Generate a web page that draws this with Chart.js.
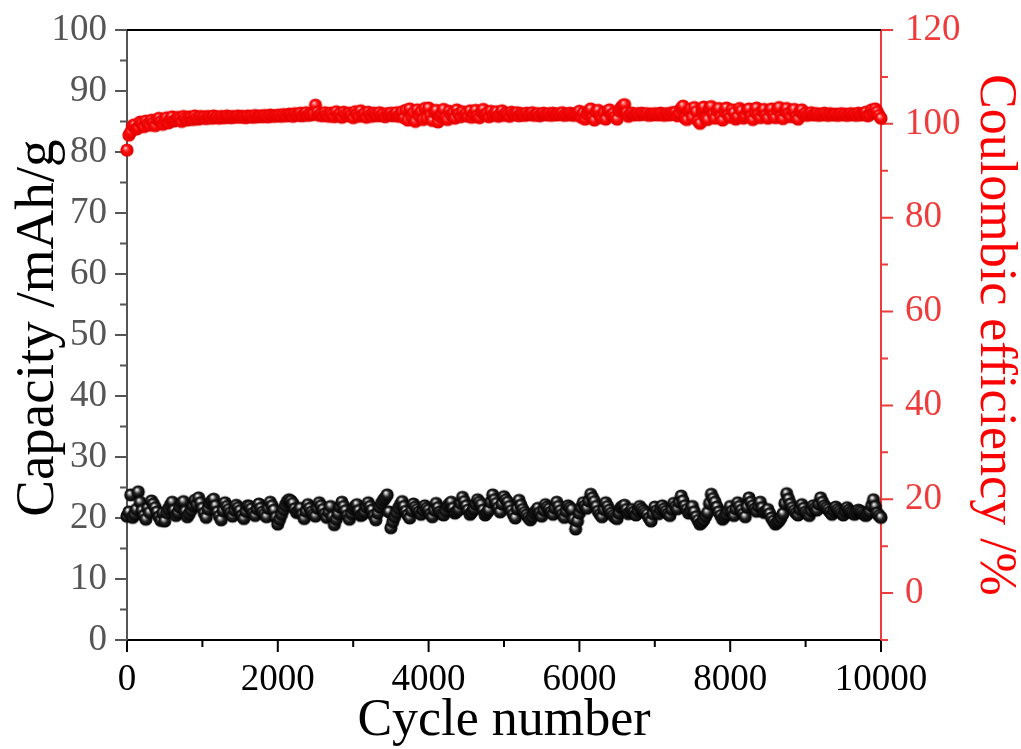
<!DOCTYPE html>
<html>
<head>
<meta charset="utf-8">
<script src="https://cdn.jsdelivr.net/npm/chart.js@4.4.1/dist/chart.umd.min.js"></script>
<style>
  html, body { margin: 0; background: #fff; }
  #wrap { width: 1021px; height: 749px; }
</style>
</head>
<body>
<div id="wrap"><canvas id="chart" width="1021" height="749"></canvas></div>
<script>
// ====== Data (one point every 25 cycles) ======
const cycleStep = 25;

const capacity = [
  20.3, 21.0, 23.8, 20.1, 20.6, 21.4, 24.3, 22.6, 21.2, 20.4, 19.8, 21.6, 20.9, 22.8, 22.3, 21.7, 21.0, 20.2, 19.6, 20.8,
  19.5, 20.9, 21.5, 22.1, 22.6, 21.3, 20.4, 20.9, 21.8, 22.4, 22.7, 21.1, 20.2, 20.7, 21.3, 22.0, 22.9, 22.2, 23.3, 22.5,
  21.6, 20.8, 20.1, 21.5, 22.4, 22.8, 23.1, 22.0, 21.0, 20.3, 19.7, 21.2, 22.5, 21.9, 21.4, 20.9, 20.3, 21.3, 22.1, 21.7,
  21.2, 20.4, 19.9, 21.1, 22.0, 21.9, 21.5, 20.8, 20.4, 21.5, 22.3, 21.6, 21.0, 20.6, 20.2, 21.6, 22.6, 22.0, 21.3, 20.1,
  19.0, 19.8, 20.6, 21.4, 22.1, 22.7, 23.0, 22.8, 22.4, 21.5, 20.9, 21.2, 21.6, 20.6, 19.9, 21.1, 22.2, 21.6, 21.0, 20.6,
  20.3, 21.6, 22.5, 22.0, 21.4, 20.7, 20.1, 21.0, 21.9, 20.2, 18.9, 19.8, 20.7, 21.8, 22.6, 21.9, 21.2, 20.4, 19.8, 20.7,
  21.5, 21.9, 22.2, 21.2, 20.4, 20.6, 21.0, 21.8, 22.5, 21.9, 21.3, 20.4, 19.7, 20.8, 21.8, 22.4, 22.9, 23.3, 23.8, 21.0,
  18.4, 19.4, 20.2, 20.9, 21.6, 22.2, 22.7, 21.9, 21.1, 20.5, 20.0, 21.2, 22.3, 21.8, 21.4, 21.0, 20.6, 21.3, 22.0, 21.6,
  21.3, 20.7, 20.2, 21.3, 22.4, 21.7, 21.0, 20.7, 20.5, 21.2, 21.9, 22.3, 22.6, 21.6, 20.8, 21.1, 21.4, 22.4, 23.4, 22.7,
  22.0, 21.3, 20.6, 21.0, 21.5, 22.3, 23.0, 22.6, 22.2, 21.3, 20.5, 20.9, 21.3, 22.6, 23.8, 23.0, 22.4, 21.7, 21.0, 22.3,
  23.5, 23.0, 22.6, 21.9, 21.2, 20.6, 20.0, 21.5, 22.9, 22.1, 21.4, 20.9, 20.5, 20.1, 19.7, 20.2, 20.8, 21.2, 21.6, 20.9,
  20.3, 21.3, 22.2, 21.8, 21.5, 21.0, 20.6, 21.6, 22.6, 21.9, 21.2, 20.6, 20.1, 21.1, 22.0, 21.7, 21.4, 19.8, 18.2, 19.5,
  20.8, 21.7, 22.5, 22.0, 21.6, 22.8, 23.9, 23.3, 22.7, 21.9, 21.1, 20.6, 20.2, 21.4, 22.5, 21.9, 21.3, 20.8, 20.4, 20.1,
  19.9, 20.8, 21.7, 21.9, 22.1, 21.4, 20.7, 21.0, 21.4, 21.0, 20.5, 21.2, 21.9, 21.5, 21.2, 20.9, 20.6, 20.0, 19.5, 20.7,
  21.8, 21.2, 20.7, 21.4, 22.0, 21.5, 21.1, 20.7, 20.4, 21.4, 22.4, 21.9, 21.5, 22.6, 23.6, 22.8, 22.0, 21.4, 20.8, 21.3,
  21.9, 21.0, 20.2, 19.6, 19.0, 19.3, 19.7, 20.3, 20.9, 22.4, 23.9, 23.2, 22.6, 21.8, 21.0, 20.4, 19.8, 20.2, 20.6, 21.2,
  21.9, 21.1, 20.4, 21.5, 22.5, 21.9, 21.3, 20.7, 20.2, 21.8, 23.3, 22.6, 22.0, 21.5, 21.1, 21.9, 22.6, 21.7, 20.9, 21.1,
  21.4, 20.7, 20.0, 19.5, 19.0, 19.3, 19.6, 20.1, 20.7, 22.4, 24.0, 23.1, 22.3, 21.7, 21.2, 20.8, 20.5, 21.4, 22.2, 21.6,
  21.0, 20.7, 20.4, 21.2, 22.0, 21.6, 21.3, 22.3, 23.3, 22.6, 22.0, 21.7, 21.4, 21.0, 20.6, 21.2, 21.8, 21.4, 21.1, 20.8,
  20.5, 21.1, 21.7, 21.3, 21.0, 20.8, 20.6, 21.0, 21.3, 21.1, 20.9, 20.6, 20.4, 20.7, 21.1, 22.0, 23.0, 21.9, 20.8, 20.4,
  20.1,
];

const efficiency = [
  94.4, 97.6, 98.3, 99.6, 99.8, 98.9, 99.2, 100.4, 100.1, 99.4, 100.6, 100.0, 99.7, 100.8, 100.3, 99.6, 100.9, 101.2, 100.5, 99.9,
  100.7, 101.3, 100.2, 101.0, 101.5, 100.6, 100.9, 101.4, 101.1, 100.5, 101.6, 101.2, 100.8, 101.5, 101.3, 100.9, 101.7, 101.2, 101.0, 101.6,
  101.3, 101.5, 101.1, 101.6, 101.4, 101.2, 101.7, 101.3, 101.5, 101.2, 101.6, 101.4, 101.3, 101.7, 101.5, 101.3, 101.6, 101.4, 101.5, 101.7,
  101.4, 101.6, 101.5, 101.3, 101.7, 101.5, 101.6, 101.4, 101.8, 101.5, 101.6, 101.7, 101.5, 101.8, 101.6, 101.5, 101.9, 101.7, 101.6, 101.8,
  101.7, 101.9, 101.6, 102.0, 101.8, 101.7, 102.1, 101.9, 101.6, 102.2, 101.9, 101.8, 102.3, 101.7, 102.0, 102.4, 101.8, 102.1, 101.9, 102.2,
  104.0, 102.5, 101.8, 102.1, 101.7, 102.4, 101.9, 101.6, 102.3, 102.0, 101.5, 102.6, 101.8, 102.2, 101.4, 102.5, 102.0, 101.7, 102.3, 101.9,
  101.3, 102.6, 102.1, 101.6, 102.8, 101.8, 102.2, 101.4, 102.5, 101.9, 101.6, 102.3, 102.0, 101.7, 102.4, 101.8, 102.1, 101.5, 102.2, 101.9,
  102.3, 101.7, 102.0, 102.4, 101.6, 102.1, 102.6, 101.3, 102.9, 100.8, 103.2, 101.5, 102.4, 100.5, 103.0, 101.7, 102.6, 100.9, 103.3, 101.2,
  103.4, 101.8, 100.7, 102.5, 102.9, 100.4, 101.6, 102.2, 103.1, 101.3, 100.9, 102.7, 101.9, 102.4, 101.2, 103.0, 102.1, 101.5, 102.6, 101.8,
  102.3, 101.6, 102.8, 101.4, 102.1, 102.9, 101.7, 101.3, 102.5, 103.1, 101.9, 102.2, 101.5, 102.7, 101.8, 102.3, 102.6, 101.6, 102.0, 102.8,
  101.8, 102.3, 102.0, 101.6, 102.5, 102.1, 101.9, 102.4, 101.7, 102.2, 102.0, 101.8, 102.3, 101.9, 102.1, 102.4, 101.8, 102.0, 102.2, 101.7,
  102.1, 102.3, 101.9, 102.0, 102.2, 101.8, 102.3, 102.0, 101.9, 102.2, 102.0, 102.4, 101.8, 102.1, 101.9, 102.3, 102.0, 101.8, 102.2, 102.1,
  102.7, 101.4, 102.3, 101.0, 102.1, 102.8, 103.2, 101.2, 100.8, 102.5, 102.9, 101.6, 101.3, 102.4, 101.0, 102.7, 103.0, 101.8, 102.2, 101.5,
  101.0, 102.8, 103.4, 103.9, 104.1, 102.4, 101.6, 102.1, 102.3, 101.9, 102.0, 102.2, 101.9, 102.3, 102.1, 102.0, 102.2, 101.8, 102.1, 101.9,
  102.2, 102.0, 101.9, 102.3, 102.1, 101.8, 102.2, 102.0, 101.9, 102.4, 102.1, 102.5, 101.7, 102.3, 103.3, 103.8, 101.2, 100.9, 102.7, 103.2,
  101.4, 103.5, 102.6, 100.6, 100.1, 103.0, 103.6, 101.1, 100.9, 103.4, 103.7, 102.0, 101.2, 102.8, 103.3, 101.5, 100.8, 102.6, 103.4, 101.9,
  101.4, 103.0, 102.4, 101.0, 101.5, 103.3, 102.8, 101.2, 101.7, 102.9, 103.2, 101.6, 100.9, 102.5, 103.4, 102.0, 101.3, 102.7, 103.1, 101.8,
  101.2, 102.9, 103.2, 101.8, 101.3, 103.0, 103.5, 101.6, 101.1, 102.7, 103.3, 102.2, 101.5, 102.8, 103.1, 101.4, 101.0, 102.6, 103.0, 101.9,
  102.3, 101.8, 102.1, 102.4, 101.9, 102.0, 102.2, 101.8, 102.1, 101.9, 102.3, 102.0, 101.8, 102.2, 102.0, 101.9, 102.1, 101.8, 102.0, 102.2,
  101.9, 102.1, 101.8, 102.0, 102.2, 101.9, 102.1, 101.8, 102.3, 102.0, 101.9, 102.2, 102.5, 101.7, 102.0, 103.0, 102.4, 103.2, 102.6, 101.8,
  101.2,
];

const xTicks = [0, 2000, 4000, 6000, 8000, 10000];
const xMinor = [1000, 3000, 5000, 7000, 9000];
const yTicks = [0, 10, 20, 30, 40, 50, 60, 70, 80, 90, 100];
const yMinor = [5, 15, 25, 35, 45, 55, 65, 75, 85, 95];
const y2Ticks = [0, 20, 40, 60, 80, 100, 120];
const y2Minor = [-10, 10, 30, 50, 70, 90, 110];

// ====== Styling ======
const SERIF = "'Liberation Serif', 'Times New Roman', serif";
const GRAY = "#555555";
const RED_AX = "#ee3b3b";
const RED = "#ff0000";

// shaded ball used as point marker
function ball(r, stops) {
  const s = Math.ceil(r * 2) + 2;
  const c = document.createElement("canvas");
  c.width = c.height = s;
  const g = c.getContext("2d");
  const grad = g.createRadialGradient(s * 0.4, s * 0.36, 0.4, s / 2, s / 2, r);
  stops.forEach(([o, col]) => grad.addColorStop(o, col));
  g.fillStyle = grad;
  g.beginPath();
  g.arc(s / 2, s / 2, r, 0, Math.PI * 2);
  g.fill();
  return c;
}
const blackBall = ball(6.6, [[0, "#ffffff"], [0.2, "#9a9a9a"], [0.48, "#222"], [1, "#000"]]);
const redBall = ball(6.6, [[0, "#ffd6d6"], [0.2, "#ff5a5a"], [0.48, "#ff0a0a"], [1, "#e00000"]]);

const toPoints = (arr) => arr.map((v, i) => ({ x: i * cycleStep, y: v }));

// outward major/minor tick marks + top frame line
const frame = {
  id: "frame",
  beforeDatasetsDraw(chart) {
    const { ctx, chartArea: a, scales } = chart;
    ctx.save();
    ctx.lineWidth = 2;
    ctx.strokeStyle = "#000";
    ctx.beginPath();
    ctx.moveTo(a.left - 1, a.top);
    ctx.lineTo(a.right, a.top);
    ctx.stroke();

    const marks = (scale, values, len, color, side) => {
      ctx.strokeStyle = color;
      ctx.beginPath();
      values.forEach((v) => {
        const p = scale.getPixelForValue(v);
        if (side === "bottom") {
          ctx.moveTo(p, a.bottom);
          ctx.lineTo(p, a.bottom + len);
        } else if (side === "left") {
          ctx.moveTo(a.left, p);
          ctx.lineTo(a.left - len, p);
        } else {
          ctx.moveTo(a.right, p);
          ctx.lineTo(a.right + len, p);
        }
      });
      ctx.stroke();
    };
    marks(scales.x, xTicks, 12, "#000", "bottom");
    marks(scales.x, xMinor, 7, "#000", "bottom");
    marks(scales.y, yTicks, 12, GRAY, "left");
    marks(scales.y, yMinor, 7, GRAY, "left");
    marks(scales.y2, y2Ticks, 12, RED_AX, "right");
    marks(scales.y2, y2Minor, 7, RED_AX, "right");
    ctx.restore();
  },
};

const setTicks = (list) => (s) => {
  s.ticks = list.map((v) => ({ value: v }));
};
const plain = (v) => String(v);
// fixed box sizes, no label overflow padding
const fitBox = (w, h) => (s) => {
  if (w) s.width = w;
  if (h) s.height = h;
  s.paddingTop = s.paddingBottom = s.paddingLeft = s.paddingRight = 0;
};

new Chart(document.getElementById("chart"), {
  type: "scatter",
  data: {
    datasets: [
      {
        label: "Capacity",
        data: toPoints(capacity),
        yAxisID: "y",
        pointStyle: blackBall,
        clip: false,
      },
      {
        label: "Coulombic efficiency",
        data: toPoints(efficiency),
        yAxisID: "y2",
        pointStyle: redBall,
        clip: false,
      },
    ],
  },
  options: {
    responsive: false,
    animation: false,
    devicePixelRatio: 1,
    layout: { padding: { top: 30, left: 0, right: 0, bottom: 0 } },
    plugins: { legend: { display: false }, tooltip: { enabled: false } },
    scales: {
      x: {
        type: "linear",
        min: 0,
        max: 10000,
        afterBuildTicks: setTicks(xTicks),
        afterFit: fitBox(0, 109),
        grid: { display: false, drawTicks: false },
        border: { display: true, color: "#000", width: 2 },
        ticks: {
          color: "#000",
          padding: 18,
          maxRotation: 0,
          callback: plain,
          font: { family: SERIF, size: 37 },
        },
        title: {
          display: true,
          text: "Cycle number",
          color: "#000",
          padding: { top: 0, bottom: 2 },
          font: { family: SERIF, size: 52, lineHeight: 1 },
        },
      },
      y: {
        position: "left",
        min: 0,
        max: 100,
        afterBuildTicks: setTicks(yTicks),
        afterFit: fitBox(127, 0),
        grid: { display: false, drawTicks: false },
        border: { display: true, color: GRAY, width: 2 },
        ticks: {
          color: GRAY,
          padding: 20,
          callback: plain,
          font: { family: SERIF, size: 37 },
        },
        title: {
          display: true,
          text: " Capacity /mAh/g",
          color: "#000",
          padding: { top: 11, bottom: 0 },
          font: { family: SERIF, size: 55, lineHeight: 1 },
        },
      },
      y2: {
        position: "right",
        min: -10,
        max: 120,
        afterBuildTicks: setTicks(y2Ticks),
        afterFit: fitBox(140, 0),
        grid: { display: false, drawTicks: false },
        border: { display: true, color: RED_AX, width: 2 },
        ticks: {
          color: RED_AX,
          padding: 24,
          callback: plain,
          font: { family: SERIF, size: 37 },
        },
        title: {
          display: true,
          text: "Coulombic efficiency /%",
          color: RED,
          padding: { top: 0, bottom: 0 },
          font: { family: SERIF, size: 52, lineHeight: 1 },
        },
      },
    },
  },
  plugins: [frame],
});
</script>
</body>
</html>
